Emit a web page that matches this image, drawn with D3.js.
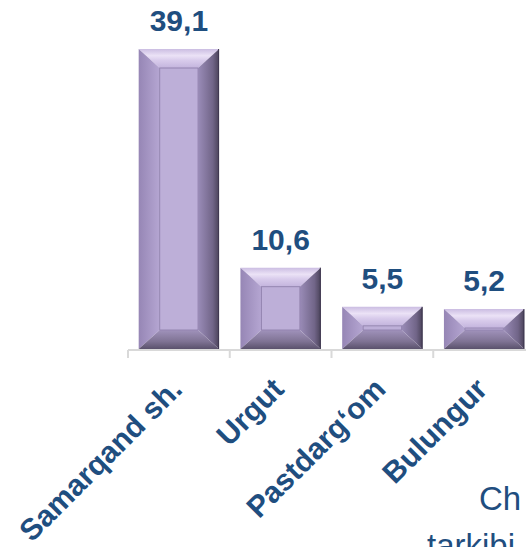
<!DOCTYPE html>
<html>
<head>
<meta charset="utf-8">
<script src="https://cdn.jsdelivr.net/npm/d3@7"></script>
<style>
  html, body { margin: 0; padding: 0; background: #ffffff; }
  svg { display: block; }
</style>
</head>
<body>
<script>
const categories = ["Samarqand sh.", "Urgut", "Pastdarg\u2018om", "Bulungur"];
const values = [39.1, 10.6, 5.5, 5.2];
const valueLabels = ["39,1", "10,6", "5,5", "5,2"];
const extraTexts = ["Ch", "tarkibi"];

const W = 526, H = 547;
const textColor = "#1f4e7f";
const font = "Arial, 'Liberation Sans', sans-serif";

const svg = d3.select("body").append("svg").attr("width", W).attr("height", H);

const x = d3.scaleBand().domain(categories).range([128, 535]).paddingInner(0.21).paddingOuter(0.105);
const y = d3.scaleLinear().domain([0, 40]).range([349, 349 - 40 * (300 / 39.1)]);

const defs = svg.append("defs");
function grad(id, x1, y1, x2, y2, stops) {
  const g = defs.append("linearGradient").attr("id", id)
    .attr("x1", x1).attr("y1", y1).attr("x2", x2).attr("y2", y2);
  stops.forEach(s => g.append("stop").attr("offset", s[0]).attr("stop-color", s[1]));
}
grad("gTop", 0, 0, 0, 1, [[0, "#cbbde2"], [0.35, "#ebe2f6"], [0.6, "#d8cbeb"], [1, "#c3b4dd"]]);
grad("gLeft", 0, 0, 1, 0, [[0, "#9686b5"], [1, "#b5a6d2"]]);
grad("gRight", 0, 0, 1, 0, [[0, "#9a8cb8"], [0.7, "#716588"], [1, "#4a4259"]]);
grad("gBot", 0, 0, 0, 1, [[0, "#a092bb"], [0.6, "#7f7394"], [1, "#5a516c"]]);

// axis
const axisG = svg.append("g");
const step = x.step();
const gap = step - x.bandwidth();
const tickXs = categories.map(c => x(c) - gap / 2).concat([x(categories[categories.length - 1]) + x.bandwidth() + gap / 2]);
axisG.append("line")
  .attr("x1", tickXs[0]).attr("x2", tickXs[tickXs.length - 1])
  .attr("y1", y(0) + 1).attr("y2", y(0) + 1)
  .attr("stroke", "#d9d9d9").attr("stroke-width", 2);
axisG.selectAll("line.tick").data(tickXs).enter().append("line")
  .attr("class", "tick")
  .attr("x1", d => d).attr("x2", d => d)
  .attr("y1", y(0) + 1).attr("y2", y(0) + 9)
  .attr("stroke", "#d9d9d9").attr("stroke-width", 2);

// bars
const data = categories.map((c, i) => ({ c, v: values[i], label: valueLabels[i] }));
const bars = svg.selectAll("g.bar").data(data).enter().append("g").attr("class", "bar");
bars.each(function (d) {
  const g = d3.select(this);
  const x0 = x(d.c), x1 = x0 + x.bandwidth();
  const y0 = y(d.v), y1 = y(0);
  const h = y1 - y0;
  const b = Math.min(19, (h - 2) / 2);
  const ix0 = x0 + b + 2, ix1 = x1 - b - 2, iy0 = y0 + b, iy1 = y1 - b;
  const poly = pts => pts.map(p => p.join(",")).join(" ");
  g.append("polygon").attr("points", poly([[x0, y0], [x1, y0], [ix1, iy0], [ix0, iy0]])).attr("fill", "url(#gTop)");
  g.append("polygon").attr("points", poly([[x0, y0], [ix0, iy0], [ix0, iy1], [x0, y1]])).attr("fill", "url(#gLeft)");
  g.append("polygon").attr("points", poly([[x1, y0], [x1, y1], [ix1, iy1], [ix1, iy0]])).attr("fill", "url(#gRight)");
  g.append("polygon").attr("points", poly([[x0, y1], [ix0, iy1], [ix1, iy1], [x1, y1]])).attr("fill", "url(#gBot)");
  g.append("rect").attr("x", ix0).attr("y", iy0).attr("width", ix1 - ix0).attr("height", Math.max(iy1 - iy0, 1))
    .attr("fill", "#bdafd8").attr("stroke", "#9384b0").attr("stroke-width", 1);
  g.append("line").attr("x1", x1 - 0.5).attr("x2", x1 - 0.5).attr("y1", y0).attr("y2", y1)
    .attr("stroke", "#3f3850").attr("stroke-width", 1);
  g.append("text")
    .attr("x", (x0 + x1) / 2).attr("y", y0 - 18)
    .attr("text-anchor", "middle")
    .attr("font-family", font).attr("font-weight", "bold").attr("font-size", 30)
    .attr("fill", textColor).text(d.label);
});

// category labels
svg.selectAll("text.cat").data(categories).enter().append("text")
  .attr("class", "cat")
  .attr("transform", d => `translate(${x(d) + x.bandwidth() / 2 + 5},${391}) rotate(-45)`)
  .attr("text-anchor", "end")
  .attr("font-family", font).attr("font-weight", "bold").attr("font-size", 30)
  .attr("fill", textColor).text(d => d);

// partial slide text at bottom right
svg.append("text").attr("x", 479).attr("y", 510)
  .attr("font-family", font).attr("font-size", 33).attr("fill", textColor).text(extraTexts[0]);
svg.append("text").attr("x", 427).attr("y", 557)
  .attr("font-family", font).attr("font-size", 33).attr("fill", textColor).text(extraTexts[1]);
</script>
</body>
</html>
